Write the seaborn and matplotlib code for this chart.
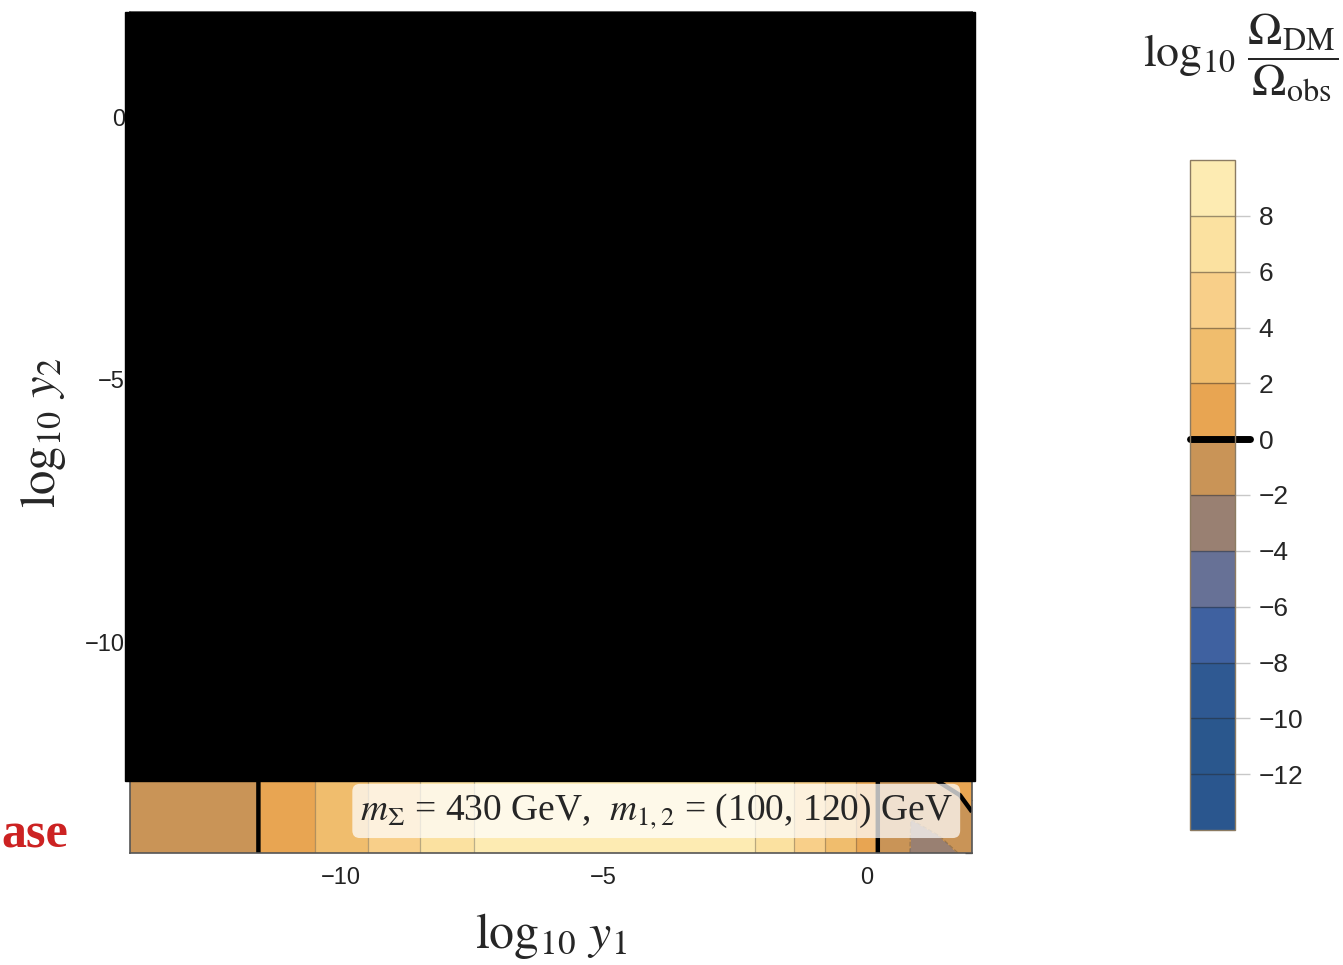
import numpy as np
import matplotlib
matplotlib.use("Agg")
import matplotlib.pyplot as plt
from matplotlib.patches import Rectangle
import seaborn as sns

# contour field read off the visible strip at the bottom of the panel
# nodes along log10 y1 (band edges seen in the strip)
y1_nodes = [-14, -11.56, -10.48, -9.48, -8.48, -7.46, -4.75, -2.13,
            -1.39, -0.79, -0.21, 0.21, 0.85, 1.37, 1.77, 2.0]
# nodes along log10 y2
y2_nodes = [-14, -13.4, -12.6, 2]

# log10(Omega_DM / Omega_obs) at the nodes, one list per y2 row
z_row_bottom = [-1.2, 0, 2, 4, 6, 8, 9, 8, 6, 4, 2, 0, -2.1, -2.5, -1.95, -1.6]
z_row_low = [-1.2, 0, 2, 4, 6, 8, 9, 8, 6, 4, 2, 0, -2.05, -1.6, -1.0, -0.3]
z_row_top = [-1.2, 0, 2, 4, 6, 8, 9, 8, 6, 4, 2, 0, -0.9, 0.1, 0.6, 1.0]
z_row_hidden = [-1.2, 0, 2, 4, 6, 8, 9, 8, 6, 4, 2, 0, -0.9, 0.1, 0.6, 1.0]

levels = [-14, -12, -10, -8, -6, -4, -2, 0, 2, 4, 6, 8, 10]
band_colors = ["#2a568e", "#2a578d", "#2f5992", "#3f61a0", "#677196", "#998072",
               "#c99457", "#e8a552", "#f0bd6d", "#f8cf89", "#fbe1a0", "#fdebb2"]
cbar_ticks = [-12, -10, -8, -6, -4, -2, 0, 2, 4, 6, 8]

sns.set_style("white")
plt.rcParams["font.family"] = ["Liberation Sans", "DejaVu Sans"]
plt.rcParams["mathtext.fontset"] = "stix"

W, H = 1343, 965
fig = plt.figure(figsize=(W / 100, H / 100), dpi=100)
ax = fig.add_axes([130 / W, 1 - 853 / H, 842 / W, 841 / H])

Z = np.array([z_row_bottom, z_row_low, z_row_top, z_row_hidden])
palette = sns.color_palette(band_colors)
cf = ax.contourf(y1_nodes, y2_nodes, Z, levels=levels, colors=palette)
thin_levels = [l for l in levels if l != 0]
ax.contour(y1_nodes, y2_nodes, Z, levels=thin_levels,
           colors=[(0.25, 0.25, 0.25, 0.35)], linewidths=0.9)
ax.contour(y1_nodes, y2_nodes, Z, levels=[0], colors="black", linewidths=3.2)

ax.set_xlim(-14, 2)
ax.set_ylim(-14, 2)
ax.set_xticks([-10, -5, 0])
ax.set_yticks([-10, -5, 0])
ax.set_xticks(np.arange(-14, 3), minor=True)
ax.set_yticks(np.arange(-14, 3), minor=True)
ax.tick_params(which="both", direction="in", top=True, right=True,
               color="#333333", labelsize=17, labelcolor="#222222")
ax.tick_params(which="major", length=8, width=1)
ax.tick_params(which="minor", length=5, width=0.9)
ax.tick_params(axis="x", which="major", pad=10)
for s in ax.spines.values():
    s.set_color("#555555")
    s.set_linewidth(1.2)

ax.set_xlabel(r"$\log_{10}\,y_1$", fontsize=36, labelpad=16)
ax.set_ylabel(r"$\log_{10}\,y_2$", fontsize=35, labelpad=12)

ax.text(-4.0, -13.2, r"$m_\Sigma$ = 430 GeV,  $m_{1,2}$ = (100, 120) GeV",
        family="Liberation Serif", fontsize=27, ha="center", va="center",
        bbox=dict(boxstyle="round,pad=0.2,rounding_size=0.2", fc="white",
                  ec="none", alpha=0.72))

# black mask over the upper part of the panel
fig.add_artist(Rectangle((125 / W, 1 - 781 / H), 850 / W, (781 - 12) / H,
                         transform=fig.transFigure, color="black", zorder=10))

fig.text(1 / W, 1 - 848 / H, "ase", color="#cc2222", fontsize=36,
         fontweight="bold", family="Liberation Serif", ha="left", va="baseline")

# colour bar
cax = fig.add_axes([1190 / W, 1 - 830 / H, 45 / W, 670 / H])
cb = fig.colorbar(cf, cax=cax, ticks=cbar_ticks)
cb.outline.set_edgecolor("#8c7b62")
cb.outline.set_linewidth(1)
cax.tick_params(length=11, width=1, color="#c8c8c8", labelsize=19, pad=6)
for l in thin_levels[1:-1]:
    cax.axhline(l, color=(0.15, 0.15, 0.15, 0.45), lw=1)
cax.axhline(0, xmin=0, xmax=1.33, color="black", lw=5, clip_on=False)

fig.text(1241 / W, 1 - 58 / H,
         r"$\log_{10}\,\dfrac{\Omega_{\rm DM}}{\Omega_{\rm obs}}$",
         fontsize=33, ha="center", va="center")

fig.savefig("out.png", dpi=100)
